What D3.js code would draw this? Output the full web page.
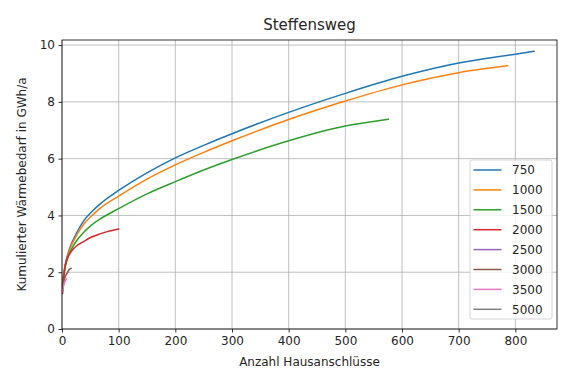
<!DOCTYPE html>
<html>
<head>
<meta charset="utf-8">
<script src="https://cdn.jsdelivr.net/npm/d3@7"></script>
<style>
  body { margin: 0; background: #fff; }
  text { font-family: "DejaVu Sans", sans-serif; fill: #262626; }
</style>
</head>
<body>
<svg id="chart" width="567" height="381"></svg>
<script>
// ---- data ----
const seriesNames = ["750", "1000", "1500", "2000", "2500", "3000", "3500", "5000"];
const colors = ["#1f77b4", "#ff7f0e", "#2ca02c", "#d62728", "#9467bd", "#8c564b", "#e377c2", "#7f7f7f"];

const x750  = [1, 3, 6, 10, 15, 20, 28, 38, 52, 67, 100, 150, 200, 250, 300, 400, 500, 600, 700, 800, 833];
const y750  = [1.55, 1.95, 2.3, 2.62, 2.92, 3.15, 3.47, 3.8, 4.12, 4.4, 4.88, 5.5, 6.03, 6.47, 6.88, 7.63, 8.3, 8.9, 9.37, 9.68, 9.78];
const x1000 = [1, 3, 6, 10, 15, 20, 28, 38, 52, 67, 100, 150, 200, 250, 300, 400, 500, 600, 700, 786];
const y1000 = [1.5, 1.9, 2.25, 2.57, 2.86, 3.08, 3.38, 3.68, 3.98, 4.25, 4.68, 5.28, 5.78, 6.22, 6.63, 7.38, 8.03, 8.6, 9.03, 9.27];
const x1500 = [1, 3, 6, 10, 15, 20, 28, 38, 52, 67, 100, 150, 200, 250, 300, 400, 500, 576];
const y1500 = [1.45, 1.85, 2.2, 2.5, 2.74, 2.93, 3.17, 3.4, 3.66, 3.87, 4.24, 4.76, 5.19, 5.6, 5.97, 6.63, 7.15, 7.39];
const x2000 = [1, 2, 3, 5, 8, 12, 16, 20, 28, 38, 52, 67, 80, 100];
const y2000 = [1.25, 1.55, 1.8, 2.15, 2.4, 2.6, 2.72, 2.82, 2.96, 3.08, 3.24, 3.35, 3.43, 3.52];
const x2500 = [1];
const y2500 = [1.2];
const x3000 = [1, 3, 6, 10, 13, 16];
const y3000 = [1.35, 1.65, 1.85, 2.0, 2.1, 2.13];
const x3500 = [1, 2, 4, 6, 8];
const y3500 = [1.3, 1.45, 1.6, 1.7, 1.76];
const x5000 = [1];
const y5000 = [1.2];

const xTicks = [0, 100, 200, 300, 400, 500, 600, 700, 800];
const yTicks = [0, 2, 4, 6, 8, 10];

const xs = [x750, x1000, x1500, x2000, x2500, x3000, x3500, x5000];
const ys = [y750, y1000, y1500, y2000, y2500, y3000, y3500, y5000];
const series = seriesNames.map((n, i) => ({
  name: n, color: colors[i],
  pts: xs[i].map((x, j) => [x, ys[i][j]])
}));

// ---- layout ----
const svg = d3.select("#chart");
const L = 62, R = 557, T = 40, B = 329;
const x = d3.scaleLinear().domain([0, 873.5]).range([L, R]);
const y = d3.scaleLinear().domain([0, 10.18]).range([B, T]);

// grid
const g = svg.append("g");
g.selectAll(".gx").data(xTicks).enter().append("line")
  .attr("x1", d => x(d)).attr("x2", d => x(d)).attr("y1", T).attr("y2", B)
  .attr("stroke", "#b0b0b0").attr("stroke-width", 0.8);
g.selectAll(".gy").data(yTicks).enter().append("line")
  .attr("y1", d => y(d)).attr("y2", d => y(d)).attr("x1", L).attr("x2", R)
  .attr("stroke", "#b0b0b0").attr("stroke-width", 0.8);

// lines
const line = d3.line().x(d => x(d[0])).y(d => y(d[1])).curve(d3.curveMonotoneX);
svg.append("g").selectAll("path").data(series).enter().append("path")
  .attr("d", d => d.pts.length > 1 ? line(d.pts) : null)
  .attr("fill", "none").attr("stroke", d => d.color).attr("stroke-width", 1.5)
  .attr("stroke-linecap", "square");

// axes
const xAxis = d3.axisBottom(x).tickValues(xTicks).tickSize(3.5).tickPadding(3.5);
const yAxis = d3.axisLeft(y).tickValues(yTicks).tickSize(3.5).tickPadding(3.5);
const gx = svg.append("g").attr("transform", `translate(0,${B})`).call(xAxis);
const gy = svg.append("g").attr("transform", `translate(${L},0)`).call(yAxis);
[gx, gy].forEach(a => {
  a.select(".domain").remove();
  a.selectAll("line").attr("stroke", "#000").attr("stroke-width", 0.8);
  a.selectAll("text").attr("font-size", 12).attr("fill", "#262626")
    .style("font-family", "DejaVu Sans, sans-serif");
});

// spines
svg.append("rect").attr("x", L).attr("y", T).attr("width", R - L).attr("height", B - T)
  .attr("fill", "none").attr("stroke", "#000").attr("stroke-width", 0.8);

// title & labels
svg.append("text").attr("x", (L + R) / 2).attr("y", 30).attr("text-anchor", "middle")
  .attr("font-size", 15).text("Steffensweg");
svg.append("text").attr("x", (L + R) / 2).attr("y", 366).attr("text-anchor", "middle")
  .attr("font-size", 12).text("Anzahl Hausanschlüsse");
svg.append("text").attr("transform", `translate(26,${(T + B) / 2}) rotate(-90)`)
  .attr("text-anchor", "middle").attr("font-size", 12).text("Kumulierter Wärmebedarf in GWh/a");

// legend
const lg = svg.append("g");
const lx = 470, ly = 160, lw = 82, lh = 159;
lg.append("rect").attr("x", lx).attr("y", ly).attr("width", lw).attr("height", lh)
  .attr("rx", 2).attr("fill", "#fff").attr("fill-opacity", 0.8)
  .attr("stroke", "#cccccc").attr("stroke-width", 0.8);
const items = lg.selectAll(".it").data(series).enter().append("g")
  .attr("transform", (d, i) => `translate(0,${170 + i * 19.9})`);
items.append("line").attr("x1", 473.5).attr("x2", 501.5).attr("y1", 0).attr("y2", 0)
  .attr("stroke", d => d.color).attr("stroke-width", 1.5);
items.append("text").attr("x", 512).attr("y", 0).attr("dy", "0.35em")
  .attr("font-size", 12).text(d => d.name);
</script>
</body>
</html>
